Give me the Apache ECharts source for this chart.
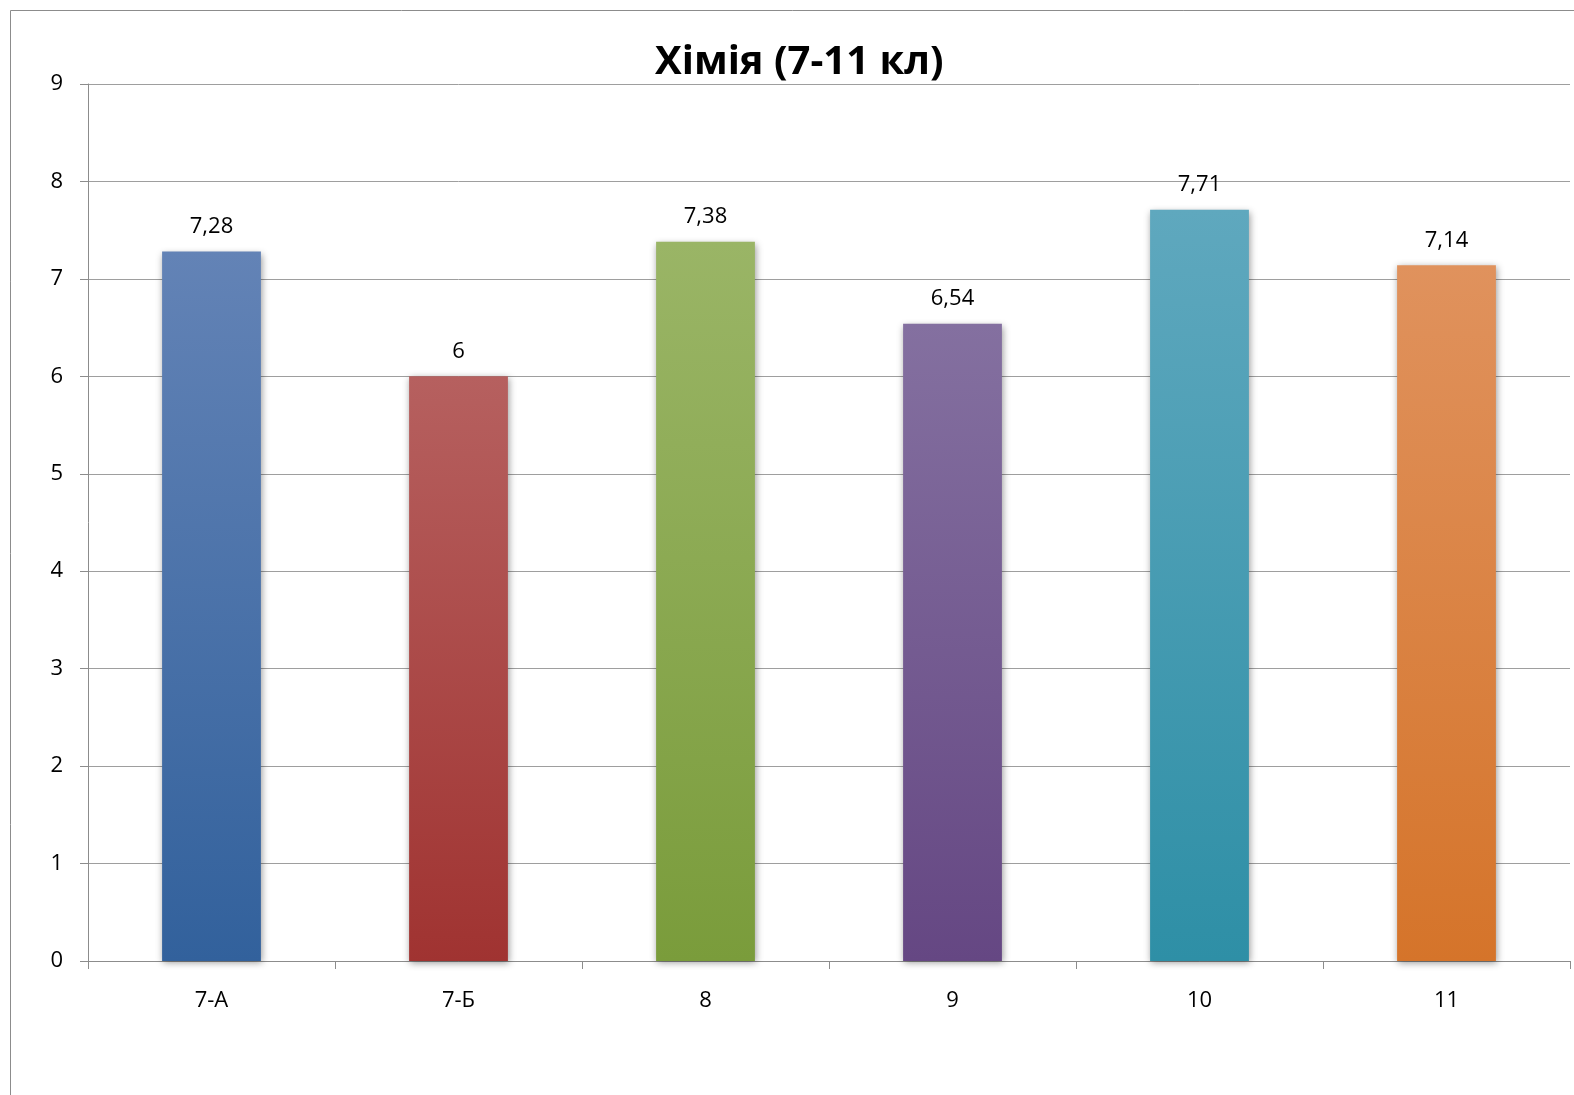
<!DOCTYPE html>
<html><head><meta charset="utf-8">
<script src="https://cdn.jsdelivr.net/npm/echarts@6/dist/echarts.min.js"></script>
<style>html,body{margin:0;padding:0;background:#fff}#c{width:1574px;height:1095px}</style>
</head><body><div id="c"></div>
<script>
const categories = ['7-А', '7-Б', '8', '9', '10', '11'];
const values = [7.28, 6, 7.38, 6.54, 7.71, 7.14];
const yTicks = [0, 1, 2, 3, 4, 5, 6, 7, 8, 9];
const topColors = ['#6383b6', '#b6605f', '#9ab566', '#8470a0', '#5fa8be', '#e0925d'];
const bottomColors = ['#32619c', '#a03331', '#7a9c3b', '#654783', '#2e8fa6', '#d5742a'];

const chart = echarts.init(document.getElementById('c'), null, {renderer: 'canvas'});
const font = '"Open Sans", "Noto Sans", sans-serif';
chart.setOption({
  animation: false,
  backgroundColor: '#fff',
  graphic: [{
    type: 'rect', left: 8, top: 8,
    shape: {width: 1600, height: 1200},
    style: {fill: 'none', stroke: '#8c8c8c', lineWidth: 1}, z: -1
  }],
  title: {
    text: 'Хімія (7-11 кл)', left: 650, top: 38,
    textStyle: {fontFamily: font, fontWeight: 'bold', fontSize: 40, color: '#000'}
  },
  grid: {left: 88, right: 4, top: 84, bottom: 134, containLabel: false},
  xAxis: {
    type: 'category', data: categories,
    axisLine: {lineStyle: {color: '#8c8c8c', width: 1}},
    axisTick: {show: true, length: 8, lineStyle: {color: '#8c8c8c'}},
    axisLabel: {fontFamily: font, fontSize: 22, color: '#000', margin: 29},
    splitLine: {show: false}
  },
  yAxis: {
    type: 'value', min: yTicks[0], max: yTicks[yTicks.length - 1], interval: 1,
    axisLine: {show: true, lineStyle: {color: '#8c8c8c', width: 1}},
    axisTick: {show: true, length: 8, inside: false, lineStyle: {color: '#8c8c8c'}},
    axisLabel: {fontFamily: font, fontSize: 22, color: '#000', margin: 25},
    splitLine: {lineStyle: {color: '#9e9e9e', width: 1}}
  },
  series: [{
    type: 'bar',
    barWidth: '40%',
    data: values.map((v, i) => ({
      value: v,
      itemStyle: {
        color: new echarts.graphic.LinearGradient(0, 0, 0, 1, [
          {offset: 0, color: topColors[i]},
          {offset: 1, color: bottomColors[i]}
        ]),
        shadowColor: 'rgba(0,0,0,0.4)', shadowBlur: 7, shadowOffsetX: 1, shadowOffsetY: 2
      }
    })),
    label: {
      show: true, position: 'top', distance: 14,
      fontFamily: font, fontSize: 22, color: '#000',
      formatter: p => String(p.value).replace('.', ',')
    }
  }]
});
</script></body></html>
